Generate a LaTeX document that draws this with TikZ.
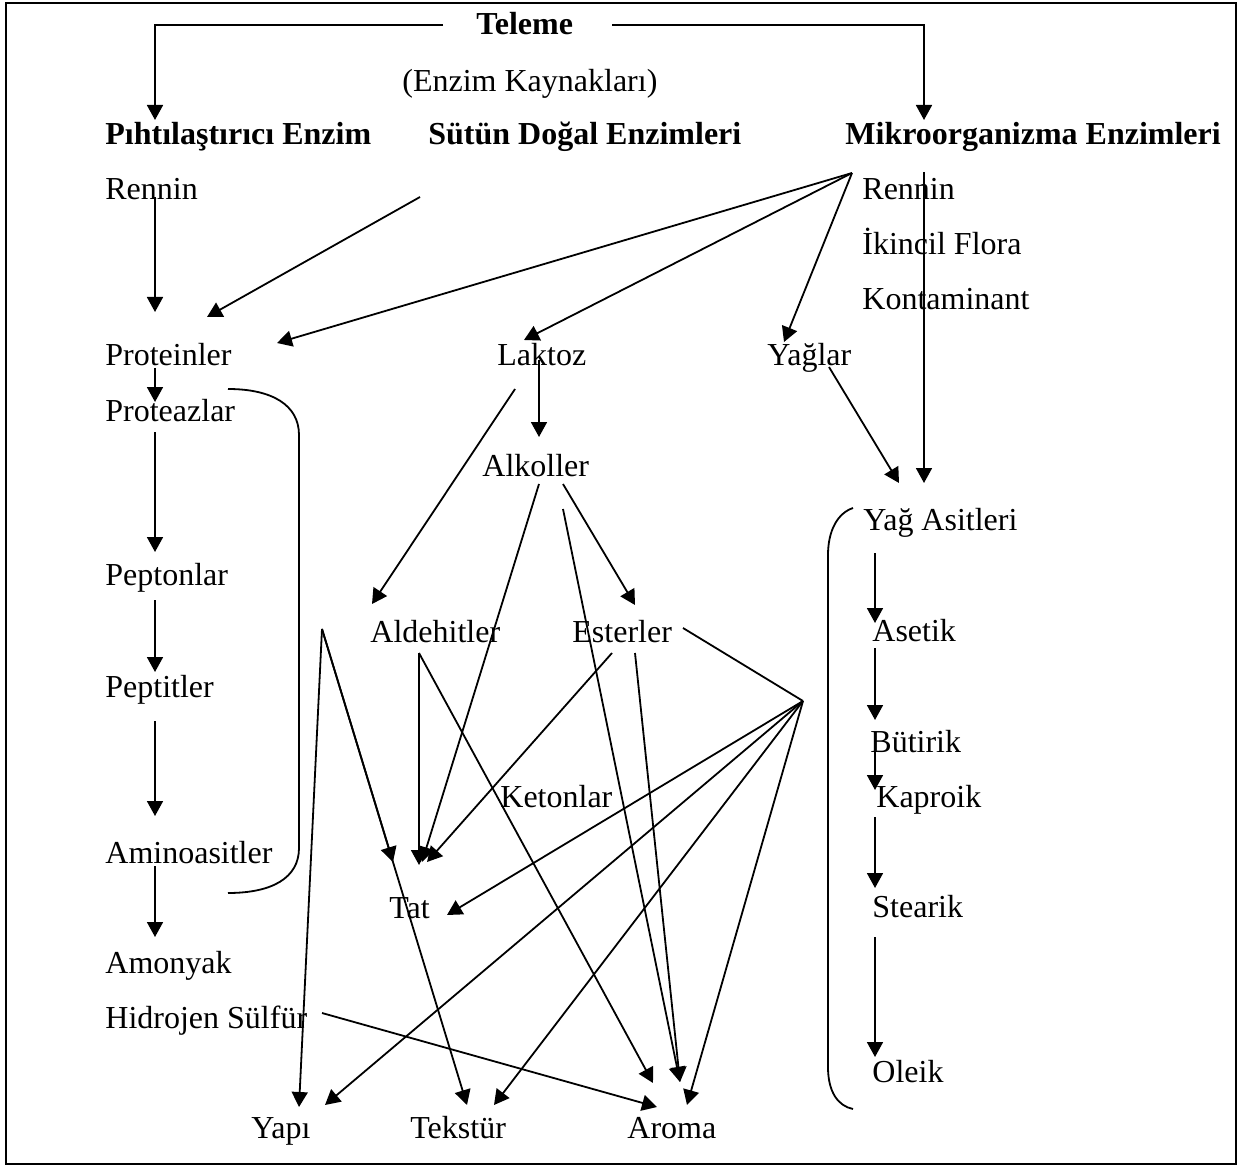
\documentclass[tikz,border=0pt]{standalone}
\usepackage{fontspec}
\setmainfont{Liberation Serif}
\usetikzlibrary{arrows.meta,calc}

\begin{document}
\begin{tikzpicture}[x=0.5pt,y=-0.5pt,
    lbl/.style={anchor=base west,inner sep=0pt,font=\fontsize{16}{19}\selectfont},
    hd/.style={lbl,font=\fontsize{16}{19}\selectfont\bfseries},
    ln/.style={line width=0.9pt},
    arr/.style={ln,-{Triangle[length=7.5pt,width=8pt]}}]
  \useasboundingbox (0,0) rectangle (1248,1166);
  \draw[line width=1.4pt] (6,3) rectangle (1236,1164);

  \node[hd] (teleme) at (476,35) {Teleme};
  \node[lbl] (kaynak) at (402,92) {(Enzim Kaynakları)};
  \node[hd] (pihti) at (105,145) {Pıhtılaştırıcı Enzim};
  \node[hd] (sutun) at (428,145) {Sütün Doğal Enzimleri};
  \node[hd] (mikro) at (845,145) {Mikroorganizma Enzimleri};
  \node[lbl] (rennA) at (105,200) {Rennin};
  \node[lbl] (rennB) at (862,200) {Rennin};
  \node[lbl] (ikincil) at (862,255) {İkincil Flora};
  \node[lbl] (kontam) at (862,310) {Kontaminant};
  \node[lbl] (prot) at (105,365) {Proteinler};
  \node[lbl] (laktoz) at (497,365) {Laktoz};
  \node[lbl] (yaglar) at (767,365) {Yağlar};
  \node[lbl] (proteaz) at (105,421) {Proteazlar};
  \node[lbl] (alkol) at (482,476) {Alkoller};
  \node[lbl] (yagasit) at (863,530) {Yağ Asitleri};
  \node[lbl] (pepton) at (105,585) {Peptonlar};
  \node[lbl] (aldeh) at (370,642) {Aldehitler};
  \node[lbl] (ester) at (572,642) {Esterler};
  \node[lbl] (asetik) at (872,641) {Asetik};
  \node[lbl] (peptit) at (105,697) {Peptitler};
  \node[lbl] (butirik) at (870,752) {Bütirik};
  \node[lbl] (kaproik) at (876,807) {Kaproik};
  \node[lbl] (keton) at (500,807) {Ketonlar};
  \node[lbl] (amino) at (105,863) {Aminoasitler};
  \node[lbl] (tat) at (389,918) {Tat};
  \node[lbl] (stearik) at (872,917) {Stearik};
  \node[lbl] (amonyak) at (105,973) {Amonyak};
  \node[lbl] (hidro) at (105,1028) {Hidrojen Sülfür};
  \node[lbl] (oleik) at (872,1082) {Oleik};
  \node[lbl] (yapi) at (251,1138) {Yapı};
  \node[lbl] (tekstur) at (410,1138) {Tekstür};
  \node[lbl] (aroma) at (627,1138) {Aroma};

  \coordinate (mfan) at ($(mikro.base west)+(7,28)$);
  \coordinate (efan) at ($(ester.base west)+(231,59)$);
  \coordinate (pout) at ($(aldeh.base west)+(-48,-13)$);

  \draw[arr] ($(teleme.base west)+(-33,-10)$) -| ($(pihti.base west)+(50,-25)$);
  \draw[arr] ($(teleme.base west)+(136,-10)$) -| ($(mikro.base west)+(79,-25)$);
  \draw[arr] ($(rennA.base west)+(50,-3)$) -- ($(prot.base west)+(50,-53)$);
  \draw[arr] ($(sutun.base west)+(-8,52)$) -- ($(prot.base west)+(102,-48)$);
  \draw[arr] (mfan) -- ($(prot.base west)+(172,-22)$);
  \draw[arr] (mfan) -- ($(laktoz.base west)+(27,-25)$);
  \draw[arr] (mfan) -- ($(yaglar.base west)+(17,-23)$);
  \draw[arr] ($(mikro.base west)+(79,27)$) -- ($(yagasit.base west)+(61,-47)$);
  \draw[arr] ($(yaglar.base west)+(62,2)$) -- ($(yagasit.base west)+(36,-47)$);

  \draw[arr] ($(prot.base west)+(50,3)$) -- ($(proteaz.base west)+(50,-19)$);
  \draw[arr] ($(proteaz.base west)+(50,11)$) -- ($(pepton.base west)+(50,-33)$);
  \draw[arr] ($(pepton.base west)+(50,15)$) -- ($(peptit.base west)+(50,-25)$);
  \draw[arr] ($(peptit.base west)+(50,24)$) -- ($(amino.base west)+(50,-47)$);
  \draw[arr] ($(amino.base west)+(50,3)$) -- ($(amonyak.base west)+(50,-36)$);
  \coordinate (brA1) at ($(proteaz.base west)+(123,-32)$);
  \coordinate (brA2) at ($(amino.base west)+(123,30)$);
  \draw[ln] (brA1) .. controls +(44,0) and +(0,-30) .. ($(brA1)+(71,46)$)
    -- ($(brA2)+(71,-45)$) .. controls +(0,30) and +(44,0) .. (brA2);

  \draw[arr] ($(laktoz.base west)+(42,-5)$) -- ($(alkol.base west)+(57,-39)$);
  \draw[arr] ($(laktoz.base west)+(18,24)$) -- ($(aldeh.base west)+(2,-38)$);
  \draw[arr] ($(alkol.base west)+(81,8)$) -- ($(ester.base west)+(63,-37)$);
  \draw[arr] ($(alkol.base west)+(57,8)$) -- ($(tat.base west)+(33,-56)$);
  \draw[arr] ($(alkol.base west)+(81,33)$) -- ($(aroma.base west)+(53,-56)$);
  \draw[arr] ($(aldeh.base west)+(49,11)$) -- ($(tat.base west)+(30,-53)$);
  \draw[arr] ($(aldeh.base west)+(49,11)$) -- ($(aroma.base west)+(26,-55)$);
  \draw[arr] ($(ester.base west)+(40,11)$) -- ($(tat.base west)+(38,-56)$);
  \draw[arr] ($(ester.base west)+(63,11)$) -- ($(aroma.base west)+(53,-56)$);
  \draw[ln] ($(ester.base west)+(111,-14)$) -- (efan);
  \draw[arr] (efan) -- ($(tat.base west)+(58,-3)$);
  \draw[arr] (efan) -- ($(yapi.base west)+(74,-33)$);
  \draw[arr] (efan) -- ($(tekstur.base west)+(84,-33)$);
  \draw[arr] (efan) -- ($(aroma.base west)+(60,-33)$);
  \draw[arr] (pout) -- ($(yapi.base west)+(48,-31)$);
  \draw[arr] (pout) -- ($(tat.base west)+(4,-56)$);
  \draw[arr] (pout) -- ($(tekstur.base west)+(57,-33)$);
  \draw[arr] ($(hidro.base west)+(217,-15)$) -- ($(aroma.base west)+(30,-31)$);

  \draw[arr] ($(yagasit.base west)+(12,23)$) -- ($(asetik.base west)+(3,-18)$);
  \draw[arr] ($(asetik.base west)+(3,7)$) -- ($(butirik.base west)+(5,-32)$);
  \draw[arr] ($(butirik.base west)+(5,-12)$) -- ($(kaproik.base west)+(-1,-17)$);
  \draw[arr] ($(kaproik.base west)+(-1,10)$) -- ($(stearik.base west)+(3,-29)$);
  \draw[arr] ($(stearik.base west)+(3,20)$) -- ($(oleik.base west)+(3,-25)$);
  \coordinate (brB1) at ($(yagasit.base west)+(-10,-22)$);
  \coordinate (brB2) at ($(oleik.base west)+(-19,27)$);
  \draw[ln] (brB1) .. controls +(-15,5) and +(0,-25) .. ($(brB1)+(-25,47)$)
    -- ($(brB2)+(-25,-42)$) .. controls +(0,25) and +(-15,-3) .. (brB2);
\end{tikzpicture}
\end{document}
